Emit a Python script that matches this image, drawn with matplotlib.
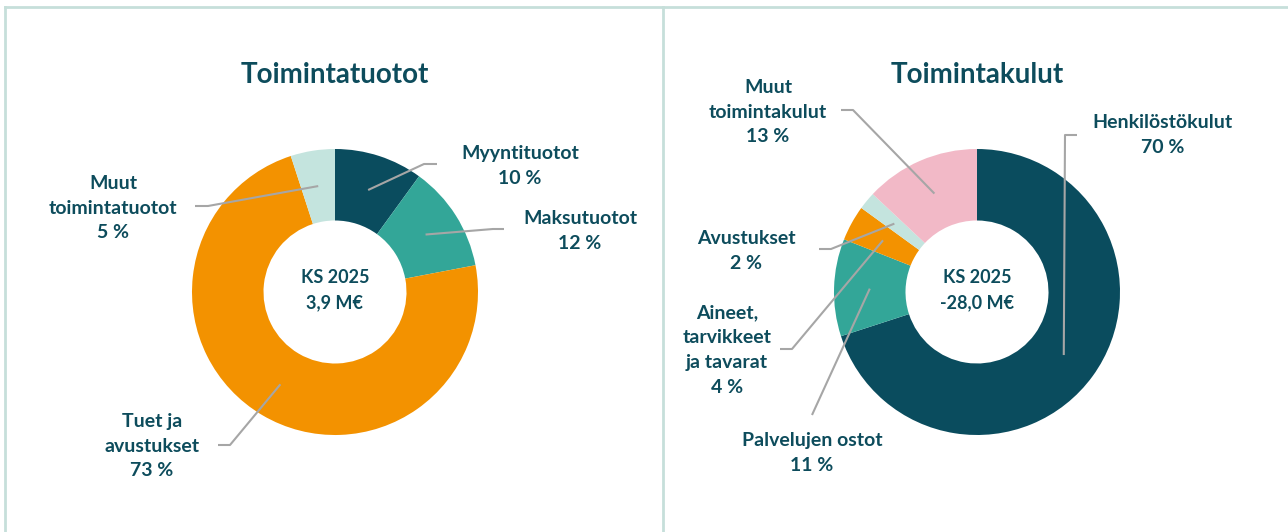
import math
import matplotlib
matplotlib.use("Agg")
import matplotlib.pyplot as plt

# data
rev_labels = ["Myyntituotot", "Maksutuotot", "Tuet ja\navustukset", "Muut\ntoimintatuotot"]
rev_values = [10, 12, 73, 5]
rev_colors = ["#0a4c5e", "#33a698", "#f39200", "#c4e4de"]
rev_total = "KS 2025\n3,9 M€"

cost_labels = ["Henkilöstökulut", "Palvelujen ostot", "Aineet,\ntarvikkeet\nja tavarat", "Avustukset", "Muut\ntoimintakulut"]
cost_values = [70, 11, 4, 2, 13]
cost_colors = ["#0a4c5e", "#33a698", "#f39200", "#c4e4de", "#f2b9c7"]
cost_total = "KS 2025\n-28,0 M€"

TXT = "#0d4c5c"
LEAD = "#a6a6a6"
BORDER = "#c6dfda"
W, H = 1288, 532
plt.rcParams['font.family'] = ['Lato', 'DejaVu Sans']

fig = plt.figure(figsize=(W / 100, H / 100), dpi=100)
ax = fig.add_axes([0, 0, 1, 1])


def Y(y):
    # image y (top-down) -> data y
    return H - y


R_OUT, R_IN = 143, 71.5


def donut(cx, cy, values, colors, title, total, labels, elbows):
    ax.pie(values, colors=colors, startangle=90, counterclock=False,
           center=(cx, Y(cy)), radius=R_OUT,
           wedgeprops=dict(width=R_OUT - R_IN, linewidth=0))
    ax.text(cx, Y(75), title, ha='center', va='center', fontsize=20,
            fontweight='bold', color=TXT)
    ax.text(cx, Y(cy - 2), total, ha='center', va='center', fontsize=13,
            fontweight='bold', color=TXT, linespacing=1.6)
    tot = sum(values)
    cum = 0
    for v, lab, (pts, lx, ly) in zip(values, labels, elbows):
        mid = (cum + v / 2) / tot * 2 * math.pi
        cum += v
        r = (R_OUT + R_IN) / 2
        sx = cx + r * math.sin(mid)
        sy = cy - r * math.cos(mid)
        xs = [sx] + [p[0] for p in pts]
        ys = [Y(sy)] + [Y(p[1]) for p in pts]
        ax.plot(xs, ys, color=LEAD, lw=1.5, solid_capstyle='butt')
        pct = f"{round(v / tot * 100)} %"
        ax.text(lx, Y(ly), lab + "\n" + pct, ha='center', va='center',
                fontsize=14, fontweight='bold', color=TXT, linespacing=1.55)


donut(335, 292, rev_values, rev_colors, "Toimintatuotot", rev_total, rev_labels,
      [([(424, 164), (437, 164)], 520, 166),
       ([(493, 229), (504, 229)], 580, 231),
       ([(230, 445), (218, 445)], 152, 446),
       ([(208, 206), (195, 206)], 113, 208)])

donut(977, 292, cost_values, cost_colors, "Toimintakulut", cost_total, cost_labels,
      [([(1065, 135), (1077, 135)], 1163, 135),
       ([(812, 415)], 812, 453),
       ([(792, 349), (780, 349)], 727, 350),
       ([(831, 249), (819, 249)], 746, 251),
       ([(853, 110), (841, 110)], 768, 112)])

ax.set_xlim(0, W)
ax.set_ylim(0, H)
ax.set_aspect('equal')
ax.axis('off')

# frame
ax.plot([5, 5], [0, Y(7)], color=BORDER, lw=2)
ax.plot([5, W], [Y(7), Y(7)], color=BORDER, lw=2)
ax.plot([663, 663], [0, Y(7)], color=BORDER, lw=2)

fig.savefig("out.png", dpi=100, facecolor='white')
